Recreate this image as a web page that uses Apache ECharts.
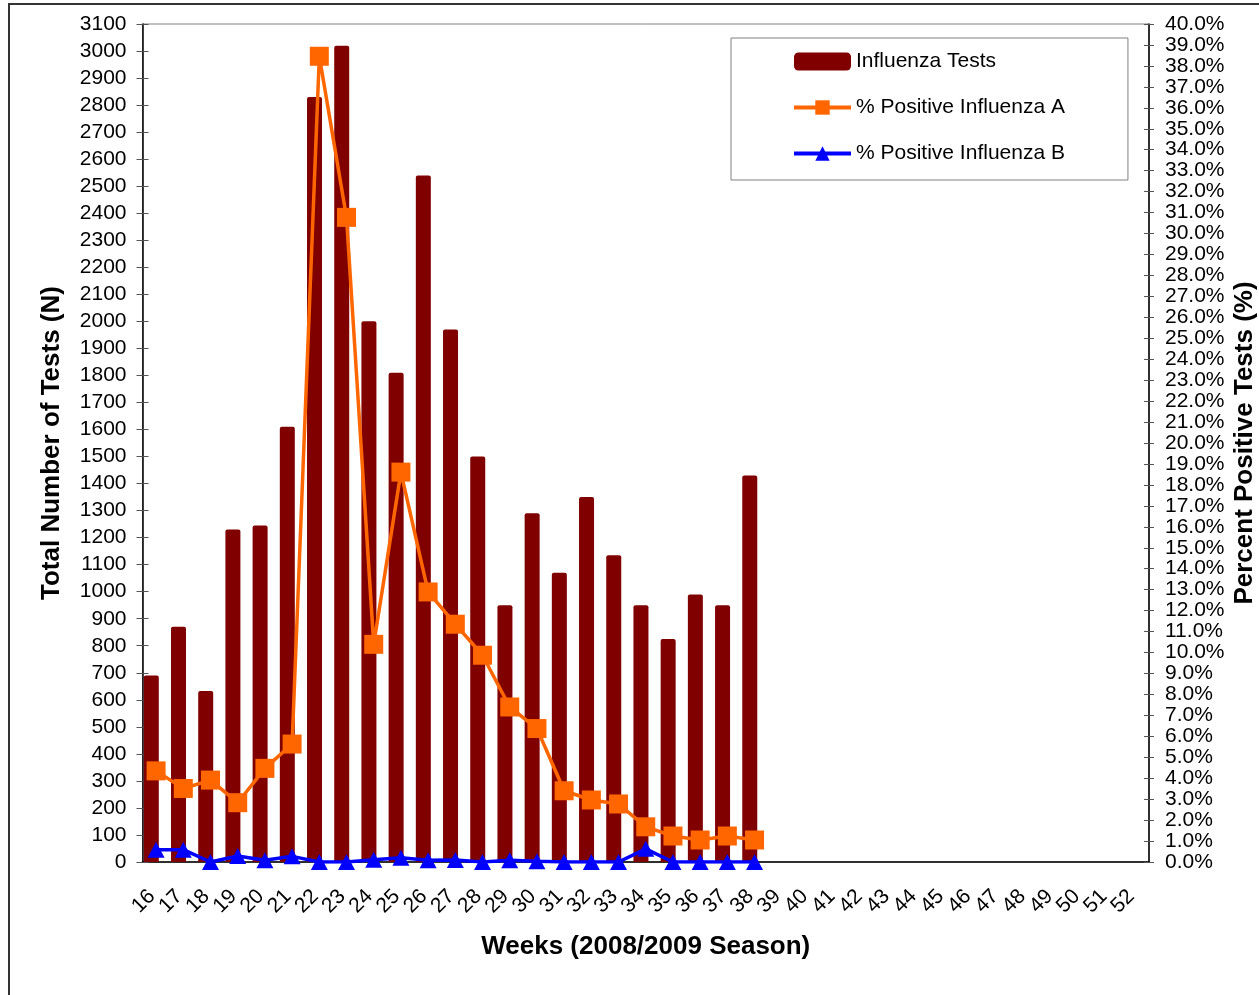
<!DOCTYPE html>
<html>
<head>
<meta charset="utf-8">
<script src="https://cdn.jsdelivr.net/npm/echarts@6/dist/echarts.min.js"></script>
<style>
  html, body { margin: 0; padding: 0; background: #fff; }
  #frame { position: absolute; left: 8px; top: 3px; width: 1300px; height: 1100px;
           border-top: 2px solid #333; border-left: 2px solid #333; }
  #chart { position: absolute; left: 0; top: 0; width: 1259px; height: 995px; }
</style>
</head>
<body>
<div id="frame"></div>
<div id="chart"></div>
<script>
// week labels on the category axis
const weeks = ['16', '17', '18', '19', '20', '21', '22', '23', '24', '25', '26', '27', '28',
  '29', '30', '31', '32', '33', '34', '35', '36', '37', '38', '39', '40', '41', '42', '43',
  '44', '45', '46', '47', '48', '49', '50', '51', '52']

// total tests per week (weeks 16-38)
const tests = [690, 870, 633, 1230, 1245, 1610, 2830, 3020, 2000, 1810, 2540, 1970, 1500,
  950, 1290, 1070, 1350, 1135, 950, 825, 990, 950, 1430]

// percent positive, in %
const fluA = [4.35, 3.51, 3.91, 2.83, 4.47, 5.63, 38.46, 30.77, 10.39, 18.61, 12.89, 11.35,
  9.87, 7.40, 6.37, 3.40, 2.96, 2.77, 1.68, 1.24, 1.05, 1.24, 1.05]
const fluB = [0.59, 0.59, 0, 0.29, 0.08, 0.27, 0, 0, 0.11, 0.2, 0.08, 0.1, 0, 0.08, 0.03,
  0, 0, 0, 0.63, 0, 0, 0, 0]

const FONT = "'Liberation Sans', Arial, sans-serif"
const tickStyle = { color: '#555', width: 1 }
const titleStyle = { fontSize: 26, fontWeight: 'bold', color: '#000', fontFamily: FONT }

const chart = echarts.init(document.getElementById('chart'), null, { renderer: 'canvas' })

chart.setOption({
  backgroundColor: 'transparent',
  animation: false,
  textStyle: { fontFamily: FONT },
  grid: {
    left: 142.5, right: 110, top: 24, bottom: 133,
    outerBoundsMode: 'none',
    containLabel: false,
    show: true, borderColor: '#808080', borderWidth: 1, backgroundColor: 'transparent'
  },
  legend: {
    orient: 'vertical',
    left: 731, top: 38,
    padding: [13, 63, 16, 61],
    itemGap: 25,
    itemWidth: 57, itemHeight: 18,
    borderColor: '#808080', borderWidth: 1,
    backgroundColor: '#fff',
    textStyle: { fontSize: 21, color: '#000', fontFamily: FONT },
    data: [
      { name: 'Influenza Tests' },
      { name: '% Positive Influenza A', lineStyle: { width: 4 } },
      { name: '% Positive Influenza B', lineStyle: { width: 4 } }
    ]
  },
  xAxis: [
    {
      type: 'category',
      data: weeks,
      boundaryGap: true,
      axisLine: { lineStyle: { color: '#000', width: 1.5 } },
      axisTick: { interval: 0, length: 6, lineStyle: tickStyle },
      axisLabel: {
        interval: 0, rotate: 45, margin: 27, padding: [0, 6, 0, 0],
        fontSize: 21, color: '#000', fontFamily: FONT
      },
      name: 'Weeks (2008/2009 Season)',
      nameLocation: 'middle',
      nameGap: 72,
      nameTextStyle: titleStyle
    },
    {
      type: 'category',
      data: weeks,
      position: 'bottom',
      axisLine: { show: false },
      axisTick: { inside: true, interval: 0, length: 5, lineStyle: tickStyle },
      axisLabel: { show: false }
    }
  ],
  yAxis: [
    {
      type: 'value',
      min: 0, max: 3100, interval: 100,
      position: 'left',
      splitLine: { show: false },
      axisLine: { show: true, lineStyle: { color: '#000', width: 1.5 } },
      axisTick: { show: true, length: 6, lineStyle: tickStyle },
      axisLabel: { margin: 16, fontSize: 21, color: '#000', fontFamily: FONT, formatter: v => String(v) },
      name: 'Total Number of Tests (N)',
      nameLocation: 'middle',
      nameGap: 78,
      nameTextStyle: titleStyle
    },
    {
      type: 'value',
      min: 0, max: 40, interval: 1,
      position: 'right',
      splitLine: { show: false },
      axisLine: { show: true, lineStyle: { color: '#000', width: 1.5 } },
      axisTick: { show: true, length: 5, lineStyle: tickStyle },
      axisLabel: {
        margin: 16, fontSize: 21, color: '#000', fontFamily: FONT,
        formatter: v => v.toFixed(1) + '%'
      },
      name: 'Percent Positive Tests (%)',
      nameLocation: 'middle',
      nameGap: 83,
      nameMoveOverlap: false,
      nameTextStyle: titleStyle
    },
    {
      // inner half of the crossing ticks, left
      type: 'value', min: 0, max: 3100, interval: 100, position: 'left',
      splitLine: { show: false }, axisLine: { show: false }, axisLabel: { show: false },
      axisTick: { show: true, inside: true, length: 6, lineStyle: tickStyle }
    },
    {
      // inner half of the crossing ticks, right
      type: 'value', min: 0, max: 40, interval: 1, position: 'right',
      splitLine: { show: false }, axisLine: { show: false }, axisLabel: { show: false },
      axisTick: { show: true, inside: true, length: 5, lineStyle: tickStyle }
    }
  ],
  series: [
    {
      name: 'Influenza Tests',
      type: 'bar',
      data: tests,
      barWidth: 15,
      barGap: '-36%',
      itemStyle: { color: '#800000', borderRadius: [2, 2, 0, 0] }
    },
    {
      // empty second slot, pushes the bars left of the category centre like the original
      name: 'spacer',
      type: 'bar',
      data: tests.map(() => null),
      barWidth: 15,
      silent: true
    },
    {
      name: '% Positive Influenza A',
      type: 'line',
      yAxisIndex: 1,
      data: fluA,
      symbol: 'rect',
      symbolSize: 19,
      color: '#FF6600',
      lineStyle: { color: '#FF6600', width: 3.5 },
      itemStyle: { color: '#FF6600' }
    },
    {
      name: '% Positive Influenza B',
      type: 'line',
      yAxisIndex: 1,
      data: fluB,
      symbol: 'triangle',
      symbolSize: [17, 16],
      color: '#0000FF',
      lineStyle: { color: '#0000FF', width: 3.5 },
      itemStyle: { color: '#0000FF' }
    }
  ]
})

window.addEventListener('resize', () => chart.resize())
</script>
</body>
</html>
